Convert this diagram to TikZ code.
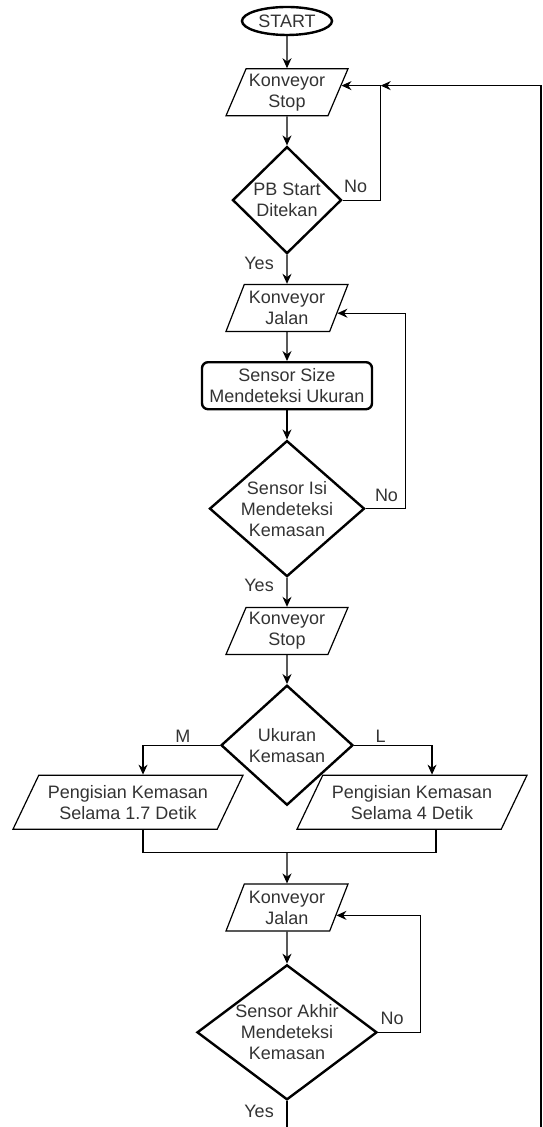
\documentclass[tikz,border=0pt]{standalone}
\usepackage{fontspec}
\setmainfont{Liberation Sans}
\usepackage{tikz}
\usetikzlibrary{arrows.meta,positioning,shapes.geometric}

\begin{document}
\begin{tikzpicture}[
x=0.5pt, y=-0.5pt,
node distance=14.5pt,
font=\fontsize{9}{10.5}\selectfont,
every node/.style={text=black!80},
flowstart/.style={ellipse, draw=black, line width=1.2pt, minimum width=45pt,
minimum height=14pt, inner sep=0pt},
flowio/.style={trapezium, trapezium left angle=64, trapezium right angle=116,
trapezium stretches body, draw=black, line width=0.6pt, align=center,
minimum width=61pt, minimum height=23.5pt, inner sep=1pt},
flowiowide/.style={flowio, trapezium left angle=56, trapezium right angle=124,
minimum width=115pt, minimum height=27pt},
flowact/.style={draw=black, rounded corners=3pt, line width=1.2pt, align=center,
minimum width=85pt, minimum height=23.5pt, inner sep=1pt},
flowdec/.style={diamond, draw=black, line width=1.2pt, align=center, inner sep=-20pt},
flowarrow/.style={-{Stealth[length=5pt,width=4.5pt]}, line width=0.6pt},
flowline/.style={line width=0.6pt}
]
\useasboundingbox (0,0) rectangle (542,1127);

\node[flowstart] (start) at (287,21) {START};
\node[flowio, below=16pt of start] (stop1) {Konveyor\\Stop};
\node[flowdec, below=of stop1, minimum width=54.5pt, minimum height=53.5pt] (pb) {PB Start\\Ditekan};
\node[flowio, below=of pb] (jalan1) {Konveyor\\Jalan};
\node[flowact, below=of jalan1] (size) {Sensor Size\\Mendeteksi Ukuran};
\node[flowdec, below=of size, minimum width=77.5pt, minimum height=68pt] (isi) {Sensor Isi\\Mendeteksi\\Kemasan};
\node[flowio, below=of isi] (stop2) {Konveyor\\Stop};
\node[flowdec, below=of stop2, minimum width=66pt, minimum height=60pt] (ukuran) {Ukuran\\Kemasan};
\node[flowiowide] (isim) at ([shift={(-79.5pt,-28.5pt)}]ukuran.center) {Pengisian Kemasan\\Selama 1.7 Detik};
\node[flowiowide] (isil) at ([shift={(62.5pt,-28.5pt)}]ukuran.center) {Pengisian Kemasan\\Selama 4 Detik};
\node[flowio, below=38.5pt of ukuran] (jalan2) {Konveyor\\Jalan};
\node[flowdec, below=16pt of jalan2, minimum width=90pt, minimum height=67.5pt] (akhir) {Sensor Akhir\\Mendeteksi\\Kemasan};

\coordinate[right=19pt of pb] (pbno);
\coordinate[right=20pt of isi] (isino);
\coordinate[right=21pt of akhir] (akhirno);
\coordinate (isimin) at ([xshift=7.5pt]isim.north);
\coordinate (isimout) at ([xshift=7.5pt]isim.south);
\coordinate (isilin) at ([xshift=10pt]isil.north);
\coordinate (isilout) at ([xshift=12pt]isil.south);
\coordinate[above=15.5pt of jalan2] (merge);
\coordinate (pgbot) at (0,1127);
\coordinate (pgright) at (541,1127);

\draw[flowarrow] (start) -- (stop1);
\draw[flowarrow] (stop1) -- (pb);
\draw[flowarrow] (pb) -- node[left=3pt, pos=0.3] {Yes} (jalan1);
\draw[flowarrow] (pb) -- node[above, pos=0.34] {No} (pbno) |- (stop1.7);
\draw[flowarrow] (pgright) |- (pbno |- stop1.7);
\draw[flowarrow] (jalan1) -- (size);
\draw[flowarrow] (size) -- (isi);
\draw[flowarrow] (isi) -- node[left=3pt, pos=0.25] {Yes} (stop2);
\draw[flowarrow] (isi) -- node[above, pos=0.52] {No} (isino) |- (jalan1.-6);
\draw[flowarrow] (stop2) -- (ukuran);
\draw[flowarrow] (ukuran) -| node[above, inner sep=1pt, pos=0.24] {M} (isimin);
\draw[flowarrow] (ukuran) -| node[above, inner sep=1pt, pos=0.17] {L} (isilin);
\draw[flowline] (isimout) |- (merge);
\draw[flowline] (isilout) |- (merge);
\draw[flowarrow] (merge) -- (jalan2);
\draw[flowarrow] (jalan2) -- (akhir);
\draw[flowarrow] (akhir) -- node[above, pos=0.33] {No} (akhirno) |- (jalan2.-9);
\draw[flowline] (akhir) -- node[left=3pt, pos=0.4] {Yes} (akhir |- pgbot);
\end{tikzpicture}
\end{document}
